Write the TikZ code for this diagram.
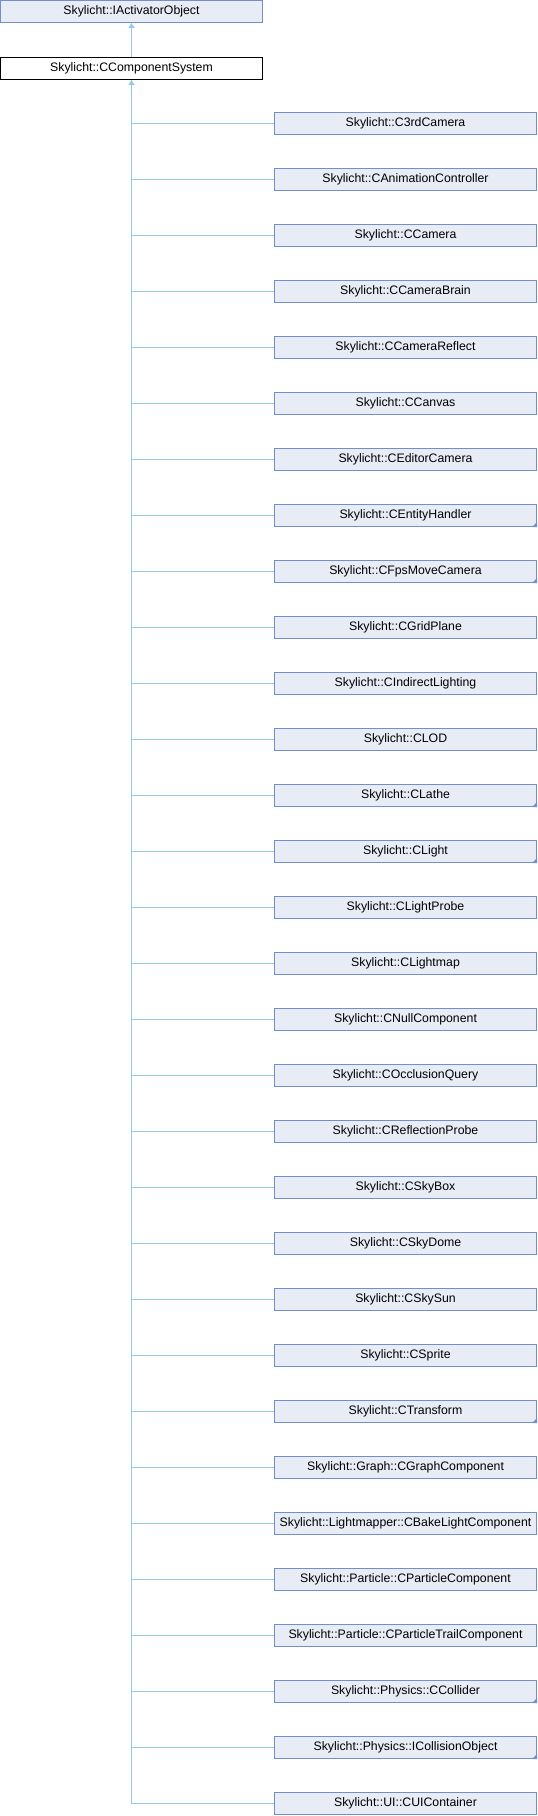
\documentclass[tikz,border=0pt]{standalone}
\usepackage{fontspec}
\setmainfont{Liberation Sans}
\usetikzlibrary{arrows.meta}
\definecolor{boxfill}{RGB}{232,236,245}
\definecolor{boxborder}{RGB}{116,142,204}
\definecolor{connline}{RGB}{150,202,236}
\begin{document}
\begin{tikzpicture}[x=1pt,y=-1pt,
  classbox/.style={draw=boxborder, fill=boxfill, line width=1pt, minimum width=262pt, minimum height=22pt, inner sep=0pt, font=\fontsize{12.3}{14}\selectfont, text=black},
  curbox/.style={classbox, draw=black, fill=white},
  conn/.style={draw=connline, line width=1pt},
  tip/.style={{Triangle[width=6pt,length=5pt]}-}]
\useasboundingbox (0,0) rectangle (538,1816);
\node[classbox] (io) at (131.5,11.5) {Skylicht::IActivatorObject};
\node[curbox] (cs) at (131.5,68.5) {Skylicht::CComponentSystem};
\draw[conn, tip] (io.south) -- (cs.north);
\foreach \t/\m [count=\i] in {
  C3rdCamera/0, CAnimationController/0, CCamera/0, CCameraBrain/0, CCameraReflect/0,
  CCanvas/0, CEditorCamera/0, CEntityHandler/1, CFpsMoveCamera/1, CGridPlane/0,
  CIndirectLighting/0, CLOD/0, CLathe/1, CLight/1, CLightProbe/0, CLightmap/0,
  CNullComponent/0, COcclusionQuery/0, CReflectionProbe/0, CSkyBox/0, CSkyDome/0,
  CSkySun/0, CSprite/0, CTransform/1, Graph::CGraphComponent/0,
  Lightmapper::CBakeLightComponent/0, Particle::CParticleComponent/0,
  Particle::CParticleTrailComponent/0, Physics::CCollider/1,
  Physics::ICollisionObject/1, UI::CUIContainer/0} {
  \node[classbox] (c\i) at (405.5,{123.5+56*(\i-1)}) {Skylicht::\t};
  \draw[conn] (cs.south |- c\i.west) -- (c\i.west);
  \ifnum\m=1
    \fill[boxborder] (c\i.south east) -- ++(0,-5) -- ++(-5,5) -- cycle;
  \fi
}
\coordinate (trunkend) at (cs.south |- c31.west);
\draw[conn, tip] (cs.south) -- (trunkend);
\end{tikzpicture}
\end{document}
